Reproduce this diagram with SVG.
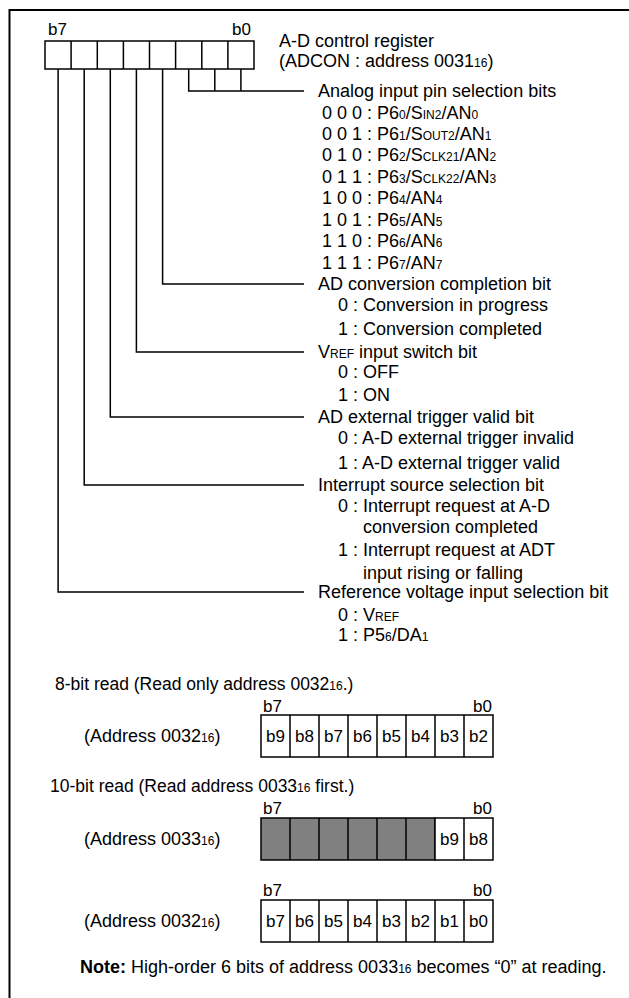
<svg xmlns="http://www.w3.org/2000/svg" width="629" height="998" viewBox="0 0 629 998">
<style>
text{font-family:"Liberation Sans",Arial,Helvetica,sans-serif;fill:#000}
.t{font-size:18px}
.h{font-size:17.5px}
.b{font-size:17px}
.c{font-size:17px;text-anchor:middle}
.s{font-size:12px}
.ln{fill:none;stroke:#000;stroke-width:1.5}
.bx{fill:#fff;stroke:#000;stroke-width:1.5}
.g{fill:#808080;stroke:#000;stroke-width:1.5}
</style>
<rect width="629" height="998" fill="#fff"/>
<path d="M9.5,998V10H629" fill="none" stroke="#000" stroke-width="2"/>

<g id="adcon-register">
<text class="b" x="48" y="35">b7</text>
<text class="b" x="232" y="35">b0</text>
<rect class="bx" x="45" y="41" width="209" height="28"/>
<path class="ln" d="M71.1,41V69M97.3,41V69M123.4,41V69M149.5,41V69M175.6,41V69M201.8,41V69M227.9,41V69"/>
<text class="t" x="279" y="46.5">A-D control register</text>
<text class="t" x="279" y="66.5">(ADCON : address 0031<tspan class="s">16</tspan>)</text>
</g>

<g id="connectors">
<path class="ln" d="M188.7,69V91H304M214.8,69V91M240.9,69V91"/>
<path class="ln" d="M162.6,69V284H304"/>
<path class="ln" d="M136.4,69V352H304"/>
<path class="ln" d="M110.3,69V417H304"/>
<path class="ln" d="M84.2,69V485H304"/>
<path class="ln" d="M58.1,69V592H304"/>
</g>

<g id="field-analog-input">
<text class="t" x="318" y="97">Analog input pin selection bits</text>
<text class="t" x="322" y="118.5">0 0 0 : P6<tspan class="s">0</tspan>/S<tspan class="s">IN2</tspan>/AN<tspan class="s">0</tspan></text>
<text class="t" x="322" y="140">0 0 1 : P6<tspan class="s">1</tspan>/S<tspan class="s">OUT2</tspan>/AN<tspan class="s">1</tspan></text>
<text class="t" x="322" y="161.3">0 1 0 : P6<tspan class="s">2</tspan>/S<tspan class="s">CLK21</tspan>/AN<tspan class="s">2</tspan></text>
<text class="t" x="322" y="182.8">0 1 1 : P6<tspan class="s">3</tspan>/S<tspan class="s">CLK22</tspan>/AN<tspan class="s">3</tspan></text>
<text class="t" x="322" y="204.2">1 0 0 : P6<tspan class="s">4</tspan>/AN<tspan class="s">4</tspan></text>
<text class="t" x="322" y="225.6">1 0 1 : P6<tspan class="s">5</tspan>/AN<tspan class="s">5</tspan></text>
<text class="t" x="322" y="247.1">1 1 0 : P6<tspan class="s">6</tspan>/AN<tspan class="s">6</tspan></text>
<text class="t" x="322" y="268.5">1 1 1 : P6<tspan class="s">7</tspan>/AN<tspan class="s">7</tspan></text>
</g>

<g id="field-ad-completion">
<text class="t" x="318" y="290">AD conversion completion bit</text>
<text class="t" x="338" y="311">0 : Conversion in progress</text>
<text class="t" x="338" y="334.5">1 : Conversion completed</text>
</g>

<g id="field-vref-switch">
<text class="t" x="318" y="357.5">V<tspan class="s">REF</tspan> input switch bit</text>
<text class="t" x="338" y="378">0 : OFF</text>
<text class="t" x="338" y="401">1 : ON</text>
</g>

<g id="field-ext-trigger">
<text class="t" x="318" y="423">AD external trigger valid bit</text>
<text class="t" x="338" y="443.5">0 : A-D external trigger invalid</text>
<text class="t" x="338" y="469">1 : A-D external trigger valid</text>
</g>

<g id="field-interrupt-source">
<text class="t" x="318" y="491">Interrupt source selection bit</text>
<text class="t" x="338" y="512">0 : Interrupt request at A-D</text>
<text class="t" x="363" y="533">conversion completed</text>
<text class="t" x="338" y="555.5">1 : Interrupt request at ADT</text>
<text class="t" x="363" y="579">input rising or falling</text>
</g>

<g id="field-reference-voltage">
<text class="t" x="318" y="598">Reference voltage input selection bit</text>
<text class="t" x="338" y="621">0 : V<tspan class="s">REF</tspan></text>
<text class="t" x="338" y="641">1 : P5<tspan class="s">6</tspan>/DA<tspan class="s">1</tspan></text>
</g>

<g id="read-8bit">
<text class="h" x="55" y="690">8-bit read (Read only address 0032<tspan class="s">16</tspan>.)</text>
<text class="b" x="263" y="712">b7</text>
<text class="b" x="473" y="712">b0</text>
<text class="t" x="84" y="742">(Address 0032<tspan class="s">16</tspan>)</text>
<rect class="bx" x="261" y="715" width="232" height="42"/>
<path class="ln" d="M290,715V757M319,715V757M348,715V757M377,715V757M406,715V757M435,715V757M464,715V757"/>
<text class="c" x="275.5" y="742">b9</text>
<text class="c" x="304.5" y="742">b8</text>
<text class="c" x="333.5" y="742">b7</text>
<text class="c" x="362.5" y="742">b6</text>
<text class="c" x="391.5" y="742">b5</text>
<text class="c" x="420.5" y="742">b4</text>
<text class="c" x="449.5" y="742">b3</text>
<text class="c" x="478.5" y="742">b2</text>
</g>

<g id="read-10bit-high">
<text class="h" x="50" y="792">10-bit read (Read address 0033<tspan class="s">16</tspan> first.)</text>
<text class="b" x="263" y="814">b7</text>
<text class="b" x="473" y="814">b0</text>
<text class="t" x="84" y="845">(Address 0033<tspan class="s">16</tspan>)</text>
<rect class="g" x="261" y="818" width="174" height="42"/>
<rect class="bx" x="435" y="818" width="58" height="42"/>
<path class="ln" d="M290,818V860M319,818V860M348,818V860M377,818V860M406,818V860M464,818V860"/>
<text class="c" x="449.5" y="845">b9</text>
<text class="c" x="478.5" y="845">b8</text>
</g>

<g id="read-10bit-low">
<text class="b" x="263" y="896">b7</text>
<text class="b" x="473" y="896">b0</text>
<text class="t" x="84" y="927">(Address 0032<tspan class="s">16</tspan>)</text>
<rect class="bx" x="261" y="900" width="232" height="42"/>
<path class="ln" d="M290,900V942M319,900V942M348,900V942M377,900V942M406,900V942M435,900V942M464,900V942"/>
<text class="c" x="275.5" y="927">b7</text>
<text class="c" x="304.5" y="927">b6</text>
<text class="c" x="333.5" y="927">b5</text>
<text class="c" x="362.5" y="927">b4</text>
<text class="c" x="391.5" y="927">b3</text>
<text class="c" x="420.5" y="927">b2</text>
<text class="c" x="449.5" y="927">b1</text>
<text class="c" x="478.5" y="927">b0</text>
</g>

<g id="note">
<text class="t" x="80" y="973"><tspan font-weight="bold">Note:</tspan> High-order 6 bits of address 0033<tspan class="s">16</tspan> becomes “0” at reading.</text>
</g>
</svg>
